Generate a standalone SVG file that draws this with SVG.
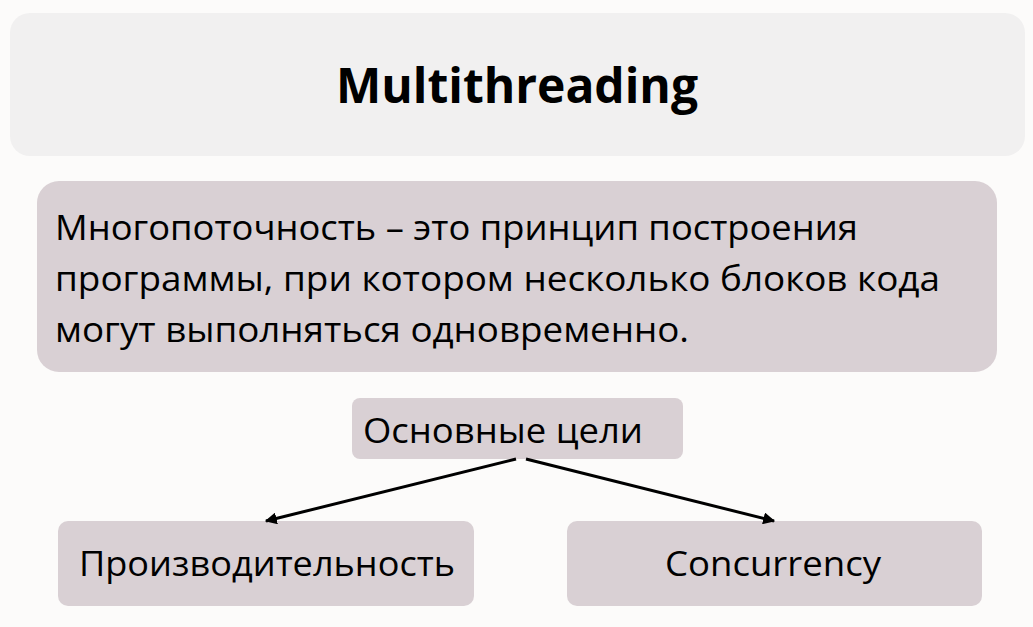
<svg xmlns="http://www.w3.org/2000/svg" width="1033" height="627" viewBox="0 0 1033 627">
<defs>
<style>
.box{fill:#d9d0d4}
.t{font-family:"Open Sans","Noto Sans","Liberation Sans",sans-serif;fill:#000}
.c{stroke:#000;stroke-width:3;fill:none;marker-end:url(#ah)}
</style>
<marker id="ah" viewBox="0 0 10 10" refX="9" refY="5" markerWidth="4" markerHeight="4" orient="auto" markerUnits="strokeWidth">
<path d="M0,0 L10,5 L0,10 z" fill="#000"/>
</marker>
</defs>
<rect width="1033" height="627" fill="#fcfbfa"/>
<g id="title">
<rect x="10" y="13" width="1015" height="143" rx="20" fill="#f1f0f0"/>
<text class="t" x="517" y="103" font-size="48" font-weight="bold" text-anchor="middle" textLength="362" lengthAdjust="spacingAndGlyphs">Multithreading</text>
</g>
<g id="definition">
<rect class="box" x="37" y="181" width="960" height="191" rx="22"/>
<text class="t" font-size="34">
<tspan x="55" y="240" textLength="803" lengthAdjust="spacingAndGlyphs">Многопоточность – это принцип построения</tspan>
<tspan x="55" y="291" textLength="885" lengthAdjust="spacingAndGlyphs">программы, при котором несколько блоков кода</tspan>
<tspan x="55" y="342" textLength="634" lengthAdjust="spacingAndGlyphs">могут выполняться одновременно.</tspan>
</text>
</g>
<g id="goals">
<rect class="box" x="352" y="398" width="331" height="61" rx="8"/>
<text class="t" x="363" y="443" font-size="34" textLength="280" lengthAdjust="spacingAndGlyphs">Основные цели</text>
</g>
<g id="performance">
<rect class="box" x="58" y="521" width="416" height="85" rx="10"/>
<text class="t" x="79" y="576" font-size="34" textLength="376" lengthAdjust="spacingAndGlyphs">Производительность</text>
</g>
<g id="concurrency">
<rect class="box" x="567" y="521" width="415" height="85" rx="10"/>
<text class="t" x="665" y="576" font-size="34" textLength="216" lengthAdjust="spacingAndGlyphs">Concurrency</text>
</g>
<g id="connectors">
<line class="c" x1="516" y1="459" x2="266" y2="521"/>
<line class="c" x1="526" y1="459" x2="774" y2="521"/>
</g>
</svg>
